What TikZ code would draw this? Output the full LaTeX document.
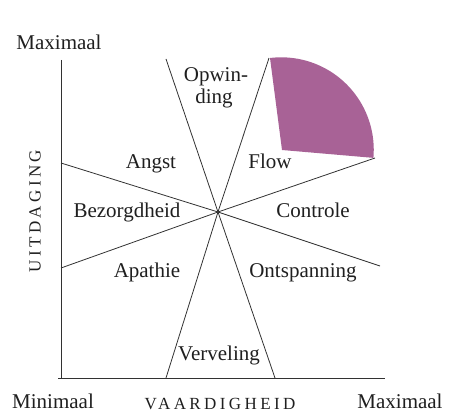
\documentclass[tikz,border=0pt]{standalone}
\usepackage{fontspec}
\setmainfont{Liberation Serif}
\newfontfamily\spacedfont[LetterSpace=20]{Liberation Serif}
\definecolor{flowfill}{RGB}{168,98,150}
\definecolor{linegray}{RGB}{50,50,50}
\begin{document}
\begin{tikzpicture}[x=1pt,y=-1pt,
  lbl/.style={font=\fontsize{21}{23}\selectfont, inner sep=0pt, anchor=base, text=black!88},
  caps/.style={font=\spacedfont\fontsize{17}{19}\selectfont, inner sep=0pt, text=black!88},
  ln/.style={draw=linegray, line width=0.8pt}]
\useasboundingbox (0,0) rectangle (475,412);
% flow region
\fill[flowfill] (270,58) arc[start angle=-97, end angle=5, radius=92.5] -- (282,150) -- cycle;
% axes
\coordinate (top) at (61,60);
\coordinate (origin) at (61,378);
\coordinate (xstart) at (58,378);
\coordinate (xend) at (385,378);
\draw[ln] (top) -- (origin);
\draw[ln] (xstart) -- (xend);
% center and rays
\coordinate (c) at (218,212);
\coordinate (tl) at (166,59);
\coordinate (tr) at (269,58);
\coordinate (lu) at (61,163);
\coordinate (ru) at (375,158);
\coordinate (ll) at (61,268);
\coordinate (rl) at (380,266);
\coordinate (bl) at (166,378);
\coordinate (br) at (275,378);
\foreach \p in {tl,tr,lu,ru,ll,rl,bl,br} \draw[ln] (c) -- (\p);
% labels
\node[lbl] (maxy) at (59,50) {Maximaal};
\node[lbl] (opw1) at (216,82) {Opwin-};
\node[lbl] (opw2) at (214,104) {ding};
\node[lbl] (angst) at (151,169) {Angst};
\node[lbl] (flow) at (270,169) {Flow};
\node[lbl] (bez) at (127,218) {Bezorgdheid};
\node[lbl] (contr) at (313,218) {Controle};
\node[lbl] (apa) at (147,277) {Apathie};
\node[lbl] (ont) at (303,277) {Ontspanning};
\node[lbl] (verv) at (219,360) {Verveling};
\node[lbl] (minx) at (53,408) {Minimaal};
\node[lbl] (maxx) at (400,408) {Maximaal};
\node[caps, anchor=base] (vaard) at (220,409) {VAARDIGHEID};
\node[caps, rotate=90] (uitd) at (35,211) {UITDAGING};
\end{tikzpicture}
\end{document}
